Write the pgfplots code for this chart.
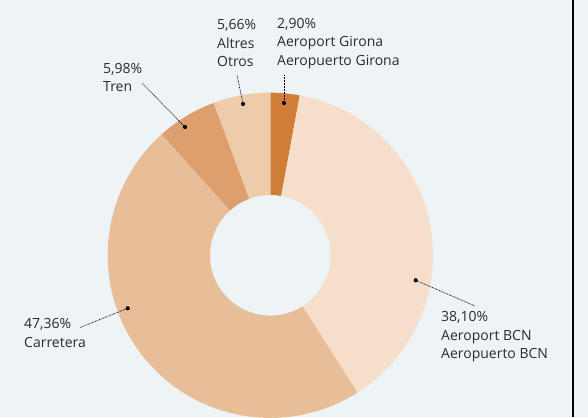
\documentclass[border=0pt]{standalone}
\usepackage{fontspec}
\setmainfont{Open Sans}
\usepackage{pgfplots}
\usepackage{pgfplotstable}
\pgfplotsset{compat=1.18}
\definecolor{bg}{HTML}{EEF3F6}
\definecolor{txt}{HTML}{2B2B2B}
\definecolor{cGir}{HTML}{D07D38}
\definecolor{cBCN}{HTML}{F5DFCB}
\definecolor{cCar}{HTML}{E8BE99}
\definecolor{cTren}{HTML}{DC9F6D}
\definecolor{cAlt}{HTML}{EECBA9}

% shares in %, clockwise from 12 o'clock
\pgfplotstableread{
label      pct    col
Girona     2.90   cGir
BCN        38.10  cBCN
Carretera  47.36  cCar
Tren       5.98   cTren
Altres     5.66   cAlt
}\shares

\tikzset{
  lbl/.style={anchor=base west, font=\fontsize{14}{18}\selectfont, text=txt, inner sep=0pt},
  lead/.style={black, line width=0.7pt, dash pattern=on 0.7pt off 0.8pt},
}

\begin{document}
\begin{tikzpicture}
\useasboundingbox (0,0) rectangle (588pt,417pt);
\begin{axis}[
    x=1pt, y=1pt,
    xmin=0, xmax=588, ymin=0, ymax=417,
    hide axis, clip=false,
]
\fill[bg] (axis cs:0,0) rectangle (axis cs:588,417);
\draw[black, line width=1.2pt] (axis cs:573,0) -- (axis cs:573,417);

% donut
\pgfplotstablegetrowsof{\shares}
\pgfmathtruncatemacro\nrows{\pgfplotsretval-1}
\def\cum{0}
\pgfplotsforeachungrouped \i in {0,...,\nrows}{
  \pgfplotstablegetelem{\i}{pct}\of\shares \let\p\pgfplotsretval
  \pgfplotstablegetelem{\i}{col}\of\shares \let\c\pgfplotsretval
  \pgfmathsetmacro\aa{90-3.6*\cum}
  \pgfmathsetmacro\ab{90-3.6*(\cum+\p)}
  \pgfmathsetmacro\cum{\cum+\p}
  \pgfmathsetmacro\ac{\ab+180}
  \edef\doit{\noexpand\fill[\c] (axis cs:270.3,161.7) ++(\aa:162.6pt)
    arc[start angle=\aa, end angle=\ab, radius=162.6pt]
    -- ++(\ac:102.3pt)
    arc[start angle=\ab, end angle=\aa, radius=60.3pt] -- cycle;}
  \doit
}

% leader lines
\draw[lead] (axis cs:284,314) -- (axis cs:284,342);
\draw[lead] (axis cs:243,313) -- (axis cs:237,342);
\draw[lead] (axis cs:185,290) -- (axis cs:142,334);
\draw[lead] (axis cs:127.7,108.7) -- (axis cs:80,89.5);
\draw[lead] (axis cs:415.7,136.7) -- (axis cs:475,111);
\fill[black] (axis cs:284,314) circle[radius=2.1pt];
\fill[black] (axis cs:243,313) circle[radius=2.1pt];
\fill[black] (axis cs:185,290) circle[radius=2.1pt];
\fill[black] (axis cs:127.7,108.7) circle[radius=2.1pt];
\fill[black] (axis cs:415.7,136.7) circle[radius=2.1pt];

% labels
\node[lbl] at (axis cs:277,388.5) {2,90\%};
\node[lbl] at (axis cs:277,370) {Aeroport Girona};
\node[lbl] at (axis cs:277,351.5) {Aeropuerto Girona};

\node[lbl] at (axis cs:217,387) {5,66\%};
\node[lbl] at (axis cs:217,368.5) {Altres};
\node[lbl] at (axis cs:217,350) {Otros};

\node[lbl] at (axis cs:103,343.5) {5,98\%};
\node[lbl] at (axis cs:103,325.3) {Tren};

\node[lbl] at (axis cs:24,88) {47,36\%};
\node[lbl] at (axis cs:24,69.3) {Carretera};

\node[lbl] at (axis cs:441,95) {38,10\%};
\node[lbl] at (axis cs:441,76.3) {Aeroport BCN};
\node[lbl] at (axis cs:441,58) {Aeropuerto BCN};
\end{axis}
\end{tikzpicture}
\end{document}
